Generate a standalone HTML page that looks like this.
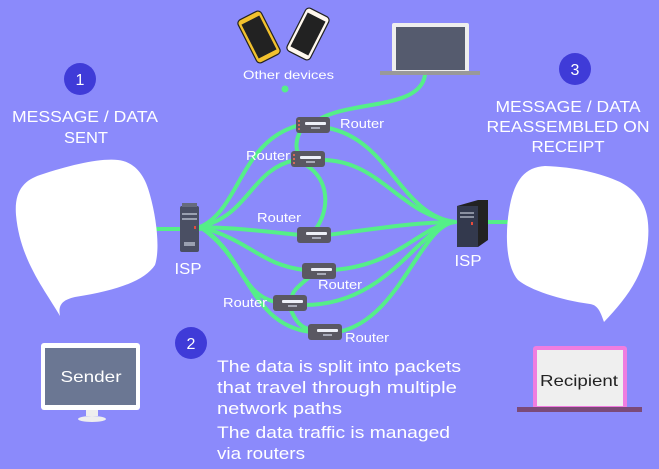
<!DOCTYPE html>
<html><head><meta charset="utf-8"><style>
html,body{margin:0;padding:0;background:#8b8afb;}
svg{display:block;}
text{font-family:"Liberation Sans",sans-serif;}
</style></head><body>
<svg width="659" height="469" viewBox="0 0 659 469" xmlns="http://www.w3.org/2000/svg">
<rect width="659" height="469" fill="#8b8afb"/>
<g fill="none" stroke="#55ef88" stroke-width="4" stroke-linecap="round">
<path d="M150,229 L200,229"/>
<path d="M480,222 L515,222"/>
<path d="M425,75 C420,110 350,100 318,120"/>
<path d="M200,227 C240,210 240,140 300,125"/>
<path d="M328,128 C390,140 400,215 455,222"/>
<path d="M200,227 C250,215 250,170 295,160"/>
<path d="M322,160 C380,160 400,215 455,222"/>
<path d="M302,128 C295,140 295,150 300,155"/>
<path d="M306,165 C330,180 330,210 315,230"/>
<path d="M200,227 C240,228 270,232 300,235"/>
<path d="M328,235 C380,228 420,222 455,222"/>
<path d="M200,227 C250,240 260,265 305,270"/>
<path d="M333,270 C400,265 420,225 455,222"/>
<path d="M312,275 C300,285 290,292 292,300"/>
<path d="M200,227 C240,250 240,295 276,302"/>
<path d="M304,305 C390,305 420,225 455,222"/>
<path d="M200,227 C250,260 250,325 311,332"/>
<path d="M338,332 C400,320 420,225 455,222"/>
<path d="M290,308 C295,320 300,328 312,330"/>
</g>
<circle cx="285" cy="89" r="3.5" fill="#55ef88"/>
<path d="M60,316 C45,290 20,260 16,215 C14,190 25,180 40,175 C70,165 100,158 118,160 C135,162 145,175 150,195 C157,220 160,250 155,265 C145,280 120,290 75,297 C62,300 58,305 60,316 Z" fill="#fff"/>
<path d="M604,322 C600,310 597,305 590,304 C560,300 530,290 518,280 C505,265 505,230 510,205 C515,180 525,167 545,166 C575,167 600,173 620,182 C645,195 650,215 648,240 C645,275 625,300 604,322 Z" fill="#fff"/>
<circle cx="80" cy="79" r="16" fill="#3f3bd8"/><text x="80" y="85" font-size="16" fill="#fff" text-anchor="middle">1</text>
<circle cx="191" cy="343" r="16" fill="#3f3bd8"/><text x="191" y="349" font-size="16" fill="#fff" text-anchor="middle">2</text>
<circle cx="575" cy="69" r="16" fill="#3f3bd8"/><text x="575" y="75" font-size="16" fill="#fff" text-anchor="middle">3</text>
<g fill="#fff" font-size="16" text-anchor="middle">
<text x="85" y="122" textLength="146" lengthAdjust="spacingAndGlyphs">MESSAGE / DATA</text>
<text x="86" y="143" textLength="44" lengthAdjust="spacingAndGlyphs">SENT</text>
<text x="568" y="112" textLength="145" lengthAdjust="spacingAndGlyphs">MESSAGE / DATA</text>
<text x="568" y="132" textLength="163" lengthAdjust="spacingAndGlyphs">REASSEMBLED ON</text>
<text x="568" y="152" textLength="73" lengthAdjust="spacingAndGlyphs">RECEIPT</text>
</g>
<g fill="#fff" font-size="17" lengthAdjust="spacingAndGlyphs">
<text x="217" y="372" textLength="244" lengthAdjust="spacingAndGlyphs">The data is split into packets</text>
<text x="217" y="393" textLength="240" lengthAdjust="spacingAndGlyphs">that travel through multiple</text>
<text x="217" y="414" textLength="125" lengthAdjust="spacingAndGlyphs">network paths</text>
<text x="217" y="438" textLength="233" lengthAdjust="spacingAndGlyphs">The data traffic is managed</text>
<text x="217" y="459" textLength="88" lengthAdjust="spacingAndGlyphs">via routers</text>
</g>
<rect x="180" y="206" width="19" height="46" rx="2" fill="#4a4f63"/>
<rect x="182" y="203" width="15" height="4" fill="#666b7d"/>
<rect x="182" y="213" width="15" height="2" fill="#9aa0b0"/><rect x="182" y="218" width="15" height="2" fill="#9aa0b0"/>
<rect x="194" y="226" width="2" height="3" fill="#e84b3c"/>
<rect x="184" y="242" width="11" height="4" fill="#9aa0b0"/>
<text x="188" y="274" font-size="16" fill="#fff" text-anchor="middle" textLength="27" lengthAdjust="spacingAndGlyphs">ISP</text>
<polygon points="457,206 478,200 488,200 488,240 478,247 457,247" fill="#222"/>
<rect x="457" y="206" width="21" height="41" fill="#33394d"/>
<rect x="460" y="212" width="14" height="2" fill="#8a90a0"/><rect x="460" y="216" width="14" height="2" fill="#8a90a0"/>
<rect x="471" y="222" width="2" height="3" fill="#e84b3c"/>
<text x="468" y="266" font-size="16" fill="#fff" text-anchor="middle" textLength="27" lengthAdjust="spacingAndGlyphs">ISP</text>
<g fill="#5a5862">
<rect x="296" y="117" width="34" height="16" rx="3"/>
<rect x="291" y="151" width="34" height="16" rx="3"/>
<rect x="297" y="227" width="34" height="16" rx="3"/>
<rect x="302" y="263" width="34" height="16" rx="3"/>
<rect x="273" y="295" width="34" height="16" rx="3"/>
<rect x="308" y="324" width="34" height="16" rx="3"/>
</g>
<g fill="#eef0f8">
<rect x="305" y="122" width="21" height="3" rx="1"/><rect x="300" y="156" width="21" height="3" rx="1"/>
<rect x="306" y="232" width="21" height="3" rx="1"/><rect x="311" y="268" width="21" height="3" rx="1"/>
<rect x="282" y="300" width="21" height="3" rx="1"/><rect x="317" y="329" width="21" height="3" rx="1"/>
</g>
<g fill="#a8aab8">
<rect x="311" y="127" width="9" height="2"/><rect x="306" y="161" width="9" height="2"/>
<rect x="312" y="237" width="9" height="2"/><rect x="317" y="273" width="9" height="2"/>
<rect x="288" y="305" width="9" height="2"/><rect x="323" y="334" width="9" height="2"/>
</g>
<g fill="#d46a5a">
<rect x="298" y="120" width="2" height="2"/><rect x="298" y="124" width="2" height="2"/><rect x="298" y="128" width="2" height="2"/>
<rect x="293" y="154" width="2" height="2"/><rect x="293" y="158" width="2" height="2"/><rect x="293" y="162" width="2" height="2"/>
</g>
<g fill="#fff" font-size="13">
<text x="340" y="128" textLength="44" lengthAdjust="spacingAndGlyphs">Router</text>
<text x="246" y="160" textLength="44" lengthAdjust="spacingAndGlyphs">Router</text>
<text x="257" y="222" textLength="44" lengthAdjust="spacingAndGlyphs">Router</text>
<text x="318" y="289" textLength="44" lengthAdjust="spacingAndGlyphs">Router</text>
<text x="223" y="307" textLength="44" lengthAdjust="spacingAndGlyphs">Router</text>
<text x="345" y="342" textLength="44" lengthAdjust="spacingAndGlyphs">Router</text>
<text x="243" y="79" font-size="12" textLength="91" lengthAdjust="spacingAndGlyphs">Other devices</text>
</g>
<g transform="translate(259,37) rotate(-27)">
<rect x="-13" y="-24" width="26" height="48" rx="4" fill="#f2c12e" stroke="#222" stroke-width="1.2"/>
<rect x="-10" y="-19" width="20" height="38" fill="#222"/></g>
<g transform="translate(308,34) rotate(27)">
<rect x="-13" y="-24" width="26" height="48" rx="4" fill="#fff8ee" stroke="#222" stroke-width="1.2"/>
<rect x="-10" y="-19" width="20" height="38" fill="#222"/></g>
<rect x="392" y="23" width="77" height="49" rx="2" fill="#eeeeee"/>
<rect x="396" y="27" width="69" height="43" fill="#555b6e"/>
<rect x="380" y="71" width="100" height="4" fill="#999"/>
<rect x="41" y="343" width="99" height="67" rx="3" fill="#fff"/>
<rect x="45" y="348" width="91" height="57" fill="#6b7793"/>
<rect x="86" y="410" width="12" height="6" fill="#eee"/>
<ellipse cx="92" cy="419" rx="14" ry="3" fill="#eee"/>
<text x="91" y="382" font-size="16" fill="#fff" text-anchor="middle" textLength="61" lengthAdjust="spacingAndGlyphs">Sender</text>
<rect x="533" y="346" width="94" height="63" rx="3" fill="#f07de0"/>
<rect x="537" y="350" width="86" height="56" fill="#efefef"/>
<rect x="517" y="407" width="125" height="5" fill="#7b4a78"/>
<text x="579" y="386" font-size="16" fill="#222" text-anchor="middle" textLength="78" lengthAdjust="spacingAndGlyphs">Recipient</text>
</svg>
</body></html>
